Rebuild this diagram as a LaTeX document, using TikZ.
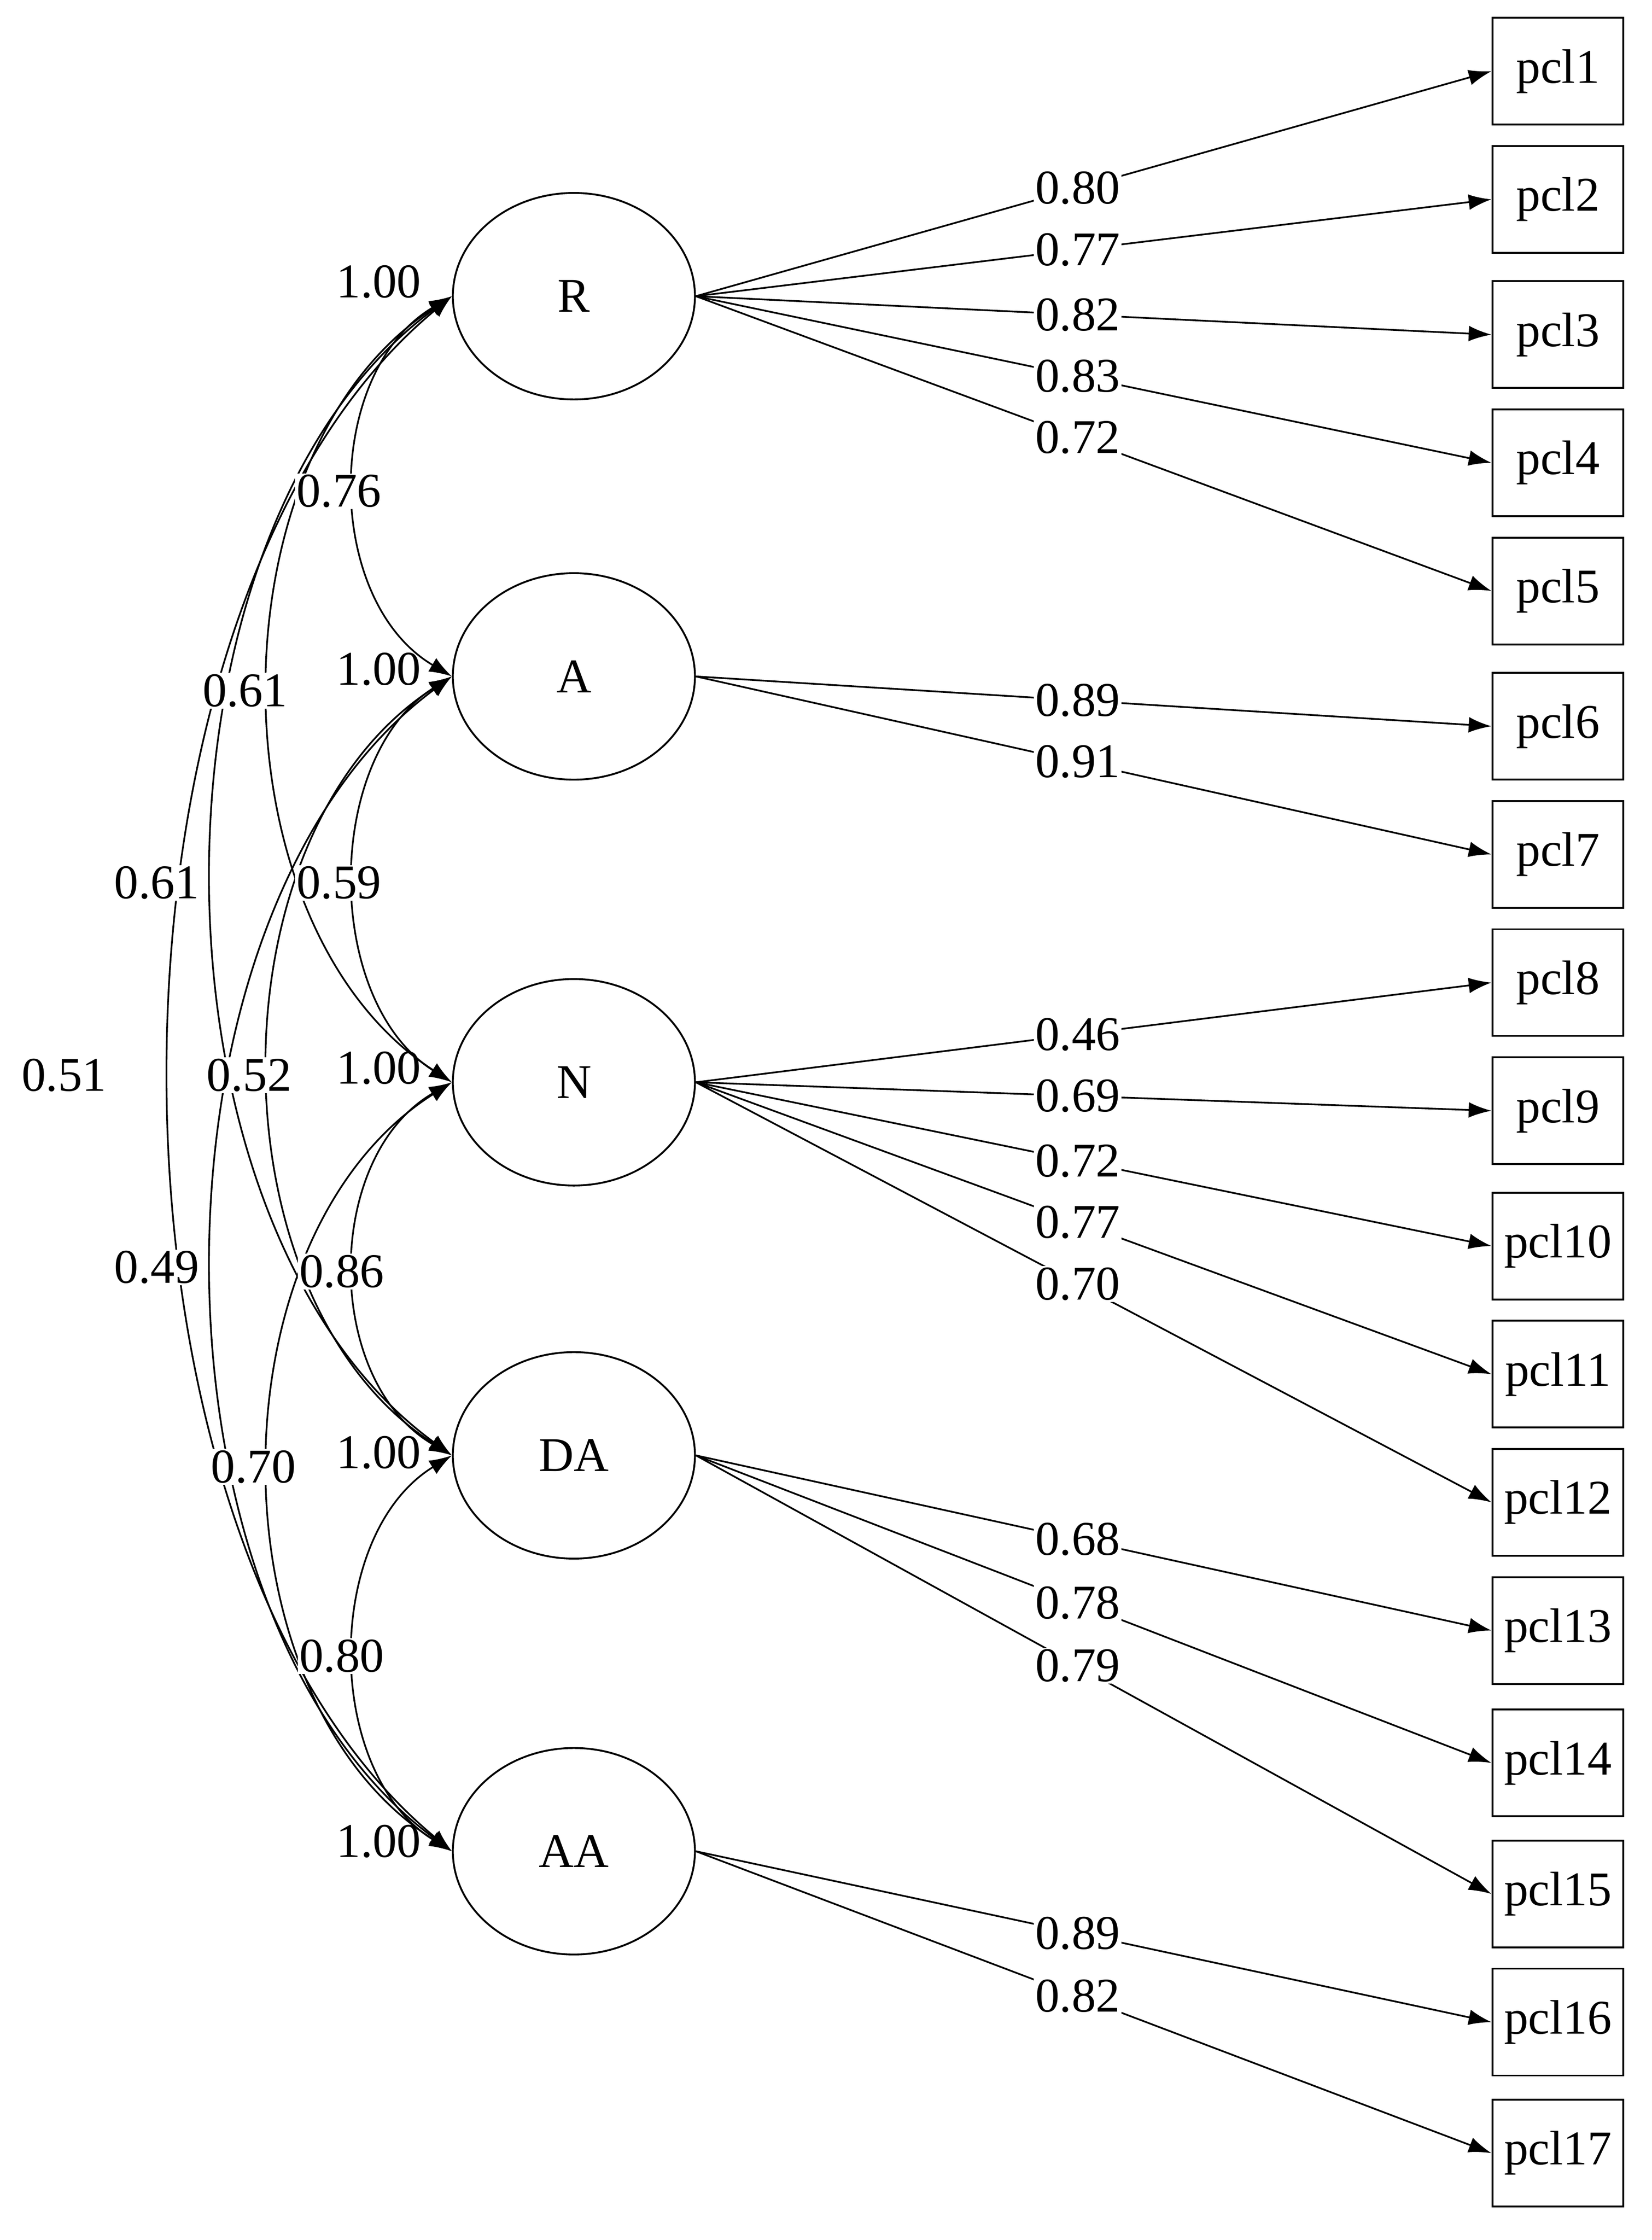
\documentclass[tikz,border=0pt]{standalone}
\usepackage{fontspec}
\setmainfont{Liberation Serif}
\usetikzlibrary{arrows.meta,shapes.geometric}
\begin{document}
\begin{tikzpicture}[x=1pt,y=1pt,
  lat/.style={ellipse,draw,line width=1.3pt,minimum width=170pt,minimum height=145pt,font=\fontsize{34}{40}\selectfont},
  obs/.style={rectangle,draw,line width=1.3pt,minimum width=92pt,minimum height=75pt,inner sep=0pt,font=\fontsize{34}{40}\selectfont},
  ld/.style={-{Latex[length=16pt,width=11pt]},line width=1.2pt},
  cv/.style={{Latex[length=16pt,width=11pt]}-{Latex[length=16pt,width=11pt]},line width=1.2pt},
  lab/.style={fill=white,inner sep=1pt,font=\fontsize{34}{40}\selectfont}]
\useasboundingbox (0,0) rectangle (1160,-1573);
\node[lat] (R) at (403,-208) {R};
\node[lat] (A) at (403,-475) {A};
\node[lat] (N) at (403,-760) {N};
\node[lat] (DA) at (403,-1022) {DA};
\node[lat] (AA) at (403,-1300) {AA};
\foreach \i/\y in {1/50,2/140,3/235,4/325,5/415,6/510,7/600,8/690,9/780,10/875,11/965,12/1055,13/1145,14/1238,15/1330,16/1420,17/1512}
  \node[obs] (p\i) at (1094,-\y) {pcl\i};
\foreach \f/\i/\v in {R/1/0.80,R/2/0.77,R/3/0.82,R/4/0.83,R/5/0.72,A/6/0.89,A/7/0.91,N/8/0.46,N/9/0.69,N/10/0.72,N/11/0.77,N/12/0.70,DA/13/0.68,DA/14/0.78,DA/15/0.79,AA/16/0.89,AA/17/0.82}
  \draw[ld] (\f.east) -- node[lab,pos=0.48]{\v} (p\i.west);
% covariances
\foreach \a/\b/\ya/\yb/\c in {R/A/208/475/227,A/N/475/760/227,N/DA/760/1022/227,DA/AA/1022/1300/227,
  R/N/208/760/147,A/DA/475/1022/147,N/AA/760/1300/147,
  R/DA/208/1022/94,A/AA/475/1300/94,R/AA/208/1300/54}
  \draw[cv] (\a.west) .. controls (\c,{-\ya-0.2*(\yb-\ya)}) and (\c,{-\yb+0.2*(\yb-\ya)}) .. (\b.west);
\foreach \x/\y/\t in {238/345/0.76,238/620/0.59,240/893/0.86,240/1163/0.80,
  172/485/0.61,175/755/0.52,178/1030/0.70,110/620/0.61,110/890/0.49,45/755/0.51}
  \node[lab] at (\x,-\y) {\t};
\foreach \n/\y in {R/198,A/470,N/750,DA/1020,AA/1293}
  \node[lab,fill=none] at (266,-\y) {1.00};
\end{tikzpicture}
\end{document}
